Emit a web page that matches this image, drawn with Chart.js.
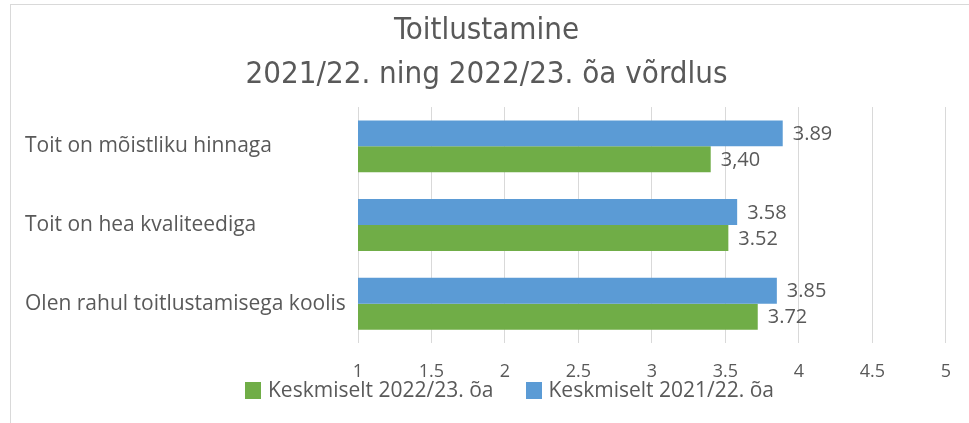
<!DOCTYPE html>
<html>
<head>
<meta charset="utf-8">
<script src="https://cdn.jsdelivr.net/npm/chart.js@4.4.0/dist/chart.umd.min.js"></script>
<style>
    html, body { margin: 0; padding: 0; background: #fff; }
    #wrap { position: relative; width: 969px; height: 423px; overflow: hidden; }
    #frame { position: absolute; left: 10px; top: 4px; width: 1000px; height: 500px;
             border-left: 1px solid #d9d9d9; border-top: 1px solid #d9d9d9; }
    #chart { position: absolute; left: 0; top: 0; }
    #legend { position: absolute; left: 245px; top: 375px; font-family: 'Open Sans', sans-serif;
              font-size: 21px; line-height: 28px; color: #595959; white-space: nowrap; display: flex; gap: 32px; }
    #legend .box { display: inline-block; width: 16px; height: 17px; margin-right: 7px; vertical-align: -2px; }
</style>
</head>
<body>
<div id="wrap">
    <div id="frame"></div>
    <canvas id="chart" width="969" height="423"></canvas>
    <div id="legend"></div>
</div>
<script>
const categories = ['Toit on mõistliku hinnaga', 'Toit on hea kvaliteediga', 'Olen rahul toitlustamisega koolis'];
const avg2122 = [3.89, 3.58, 3.85];
const avg2223 = [3.40, 3.52, 3.72];
// tekstid nagu originaalis (üks koma ka sees)
const labels2122 = ['3.89', '3.58', '3.85'];
const labels2223 = ['3,40', '3.52', '3.72'];
const xTickLabels = ['1', '1.5', '2', '2.5', '3', '3.5', '4', '4.5', '5'];
const seriesNames = ['Keskmiselt 2021/22. õa', 'Keskmiselt 2022/23. õa'];
const titleLines = ['Toitlustamine', '2021/22. ning 2022/23. õa võrdlus'];

const textColor = '#595959';
const colors = ['#5B9BD5', '#70AD47'];
const mainFont = "'Open Sans', sans-serif";

// väärtuste sildid tulba otsa
const valueLabels = {
    id: 'valueLabels',
    afterDatasetsDraw(chart) {
        const ctx = chart.ctx;
        const texts = [labels2122, labels2223];
        ctx.save();
        ctx.font = '20px ' + mainFont;
        ctx.fillStyle = textColor;
        ctx.textAlign = 'left';
        ctx.textBaseline = 'middle';
        chart.data.datasets.forEach((ds, i) => {
            chart.getDatasetMeta(i).data.forEach((bar, j) => {
                ctx.fillText(texts[i][j], bar.x + 10, bar.y + 1);
            });
        });
        ctx.restore();
    }
};

new Chart(document.getElementById('chart'), {
    type: 'bar',
    data: {
        labels: categories,
        datasets: [
            { label: seriesNames[0], data: avg2122, backgroundColor: colors[0] },
            { label: seriesNames[1], data: avg2223, backgroundColor: colors[1] }
        ]
    },
    options: {
        responsive: false,
        animation: false,
        indexAxis: 'y',
        categoryPercentage: 0.66,
        barPercentage: 1.0,
        layout: { padding: { left: 25, right: 21, top: 0, bottom: 40 } },
        plugins: {
            legend: { display: false },
            tooltip: { enabled: false },
            title: {
                display: true,
                text: titleLines,
                color: textColor,
                font: { family: "'Liberation Sans Narrow', 'DejaVu Sans Condensed', sans-serif", size: 31, weight: 'normal', lineHeight: 1.42 },
                padding: { top: 9, bottom: 10 }
            }
        },
        scales: {
            x: {
                min: 1,
                max: 5,
                ticks: {
                    stepSize: 0.5, color: textColor, font: { family: mainFont, size: 18 }, padding: 18,
                    callback: (v, i) => xTickLabels[i]
                },
                grid: { color: '#d9d9d9', drawTicks: false },
                border: { display: false },
                afterFit(scale) { scale.height = 40; }
            },
            y: {
                ticks: { color: textColor, font: { family: mainFont, size: 21 }, padding: 13, crossAlign: 'far' },
                grid: { display: false },
                border: { display: false },
                afterFit(scale) { scale.width = 333; }
            }
        }
    },
    plugins: [valueLabels]
});

// legend: roheline enne sinist, nagu pildil
const legendEl = document.getElementById('legend');
[1, 0].forEach(i => {
    const item = document.createElement('span');
    const box = document.createElement('span');
    box.className = 'box';
    box.style.background = colors[i];
    item.appendChild(box);
    item.appendChild(document.createTextNode(seriesNames[i]));
    legendEl.appendChild(item);
});
</script>
</body>
</html>
